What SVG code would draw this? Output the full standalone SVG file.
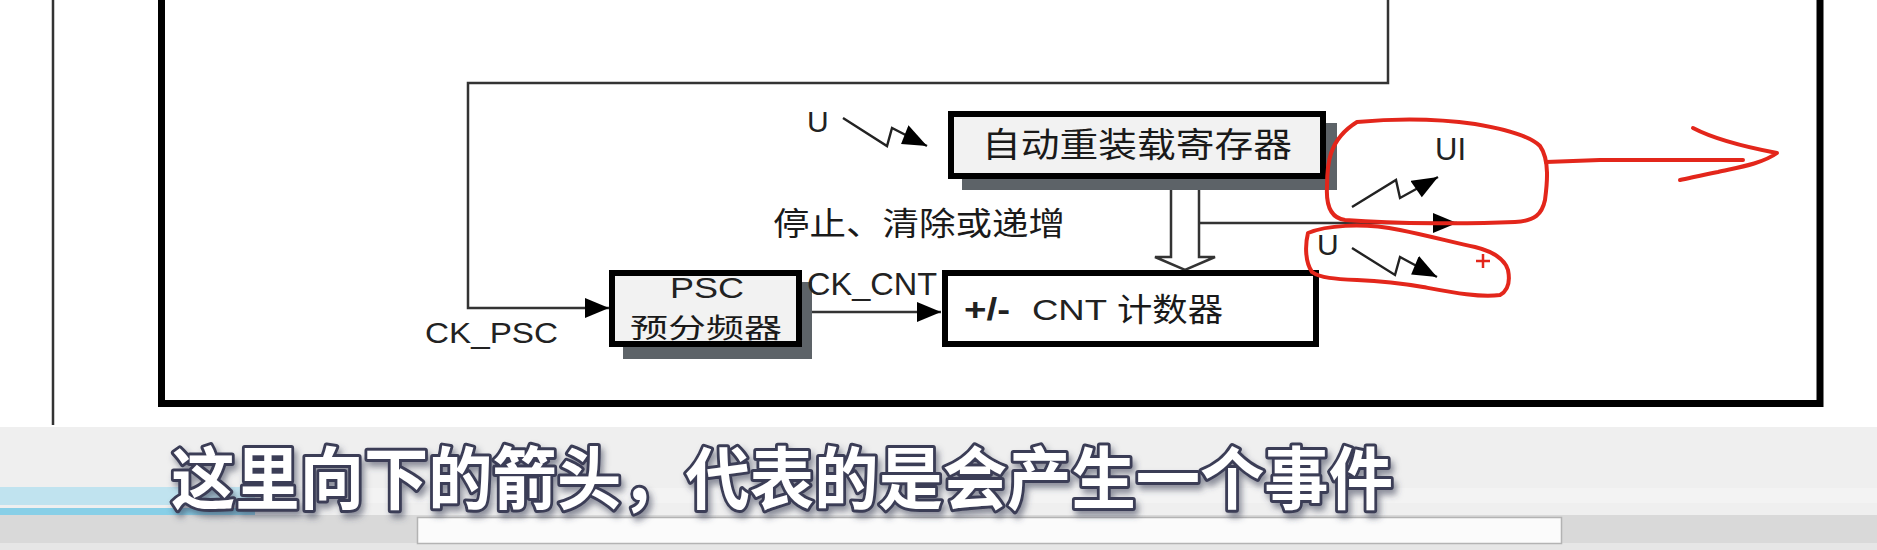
<svg xmlns="http://www.w3.org/2000/svg" width="1877" height="550" viewBox="0 0 1877 550">
<style>
.lat{font-family:"Liberation Sans","Noto Sans CJK SC",sans-serif;fill:#222}
.cjk{font-family:"Noto Sans CJK SC","Liberation Sans",sans-serif;fill:#1a1a1a;font-weight:400}
.box{stroke:#000;stroke-width:6}
.shadow{fill:#5d6368}
.wire{fill:none;stroke:#333;stroke-width:2.5}
.red{fill:none;stroke:#e3261b;stroke-width:4;stroke-linecap:round;stroke-linejoin:round}
.sub{font-family:"Noto Sans CJK SC",sans-serif;font-weight:700;fill:#fff;stroke:#3b3d56;stroke-width:6;paint-order:stroke;stroke-linejoin:round}
</style>
<defs>
<marker id="arr" markerUnits="userSpaceOnUse" markerWidth="26" markerHeight="22" refX="24" refY="10" orient="auto">
<path d="M0,0 L24,10 L0,20 Z" fill="#000"/>
</marker>
<marker id="zap" markerUnits="userSpaceOnUse" markerWidth="28" markerHeight="22" refX="26" refY="10" orient="auto">
<path d="M0,0 L26,10 L2,20 Z" fill="#000"/>
</marker>
<filter id="ts" x="-5%" y="-30%" width="110%" height="170%">
<feDropShadow dx="3" dy="5" stdDeviation="3" flood-color="#3b3d56" flood-opacity="0.55"/>
</filter>
</defs>

<!-- background -->
<rect x="0" y="0" width="1877" height="550" fill="#fff"/>
<line x1="53" y1="0" x2="53" y2="425" stroke="#333" stroke-width="2.5"/>

<!-- outer frame -->
<g id="frame">
<rect x="161.5" y="-20" width="1658.5" height="423.5" fill="none" stroke="#000" stroke-width="7"/>
</g>

<!-- connectors -->
<g id="connectors">
<path class="wire" d="M1388,-5 V83 H468 V308 H609" marker-end="url(#arr)"/>
<path class="wire" d="M802,312 H941" marker-end="url(#arr)"/>
<path d="M1171,179 V257 H1155 L1185,270 L1215,257 H1199 V179" fill="#fff" stroke="#333" stroke-width="2.5" stroke-linejoin="miter"/>
<path class="wire" d="M1199,223 H1457" marker-end="url(#arr)"/>
<!-- update event lightning arrows -->
<path d="M843,118 L887,146 L892,128 L927,146" fill="none" stroke="#222" stroke-width="2.4" marker-end="url(#zap)"/>
<path d="M1352,207 L1396,180 L1400,198 L1438,177" fill="none" stroke="#222" stroke-width="2.4" marker-end="url(#zap)"/>
<path d="M1352,248 L1395,275 L1400,257 L1437,277" fill="none" stroke="#222" stroke-width="2.4" marker-end="url(#zap)"/>
</g>

<!-- nodes -->
<g id="arr-register">
<rect class="shadow" x="962" y="123" width="375" height="67"/>
<rect class="box" x="951" y="114" width="372" height="62" fill="#f2f2f2"/>
<text class="cjk" x="982" y="157" font-size="34" textLength="310" lengthAdjust="spacingAndGlyphs">自动重装载寄存器</text>
</g>

<g id="psc">
<rect class="shadow" x="623" y="282" width="189" height="77"/>
<rect class="box" x="612" y="273" width="187" height="71" fill="#f2f2f2"/>
<text class="lat" x="670" y="298" font-size="30" textLength="74" lengthAdjust="spacingAndGlyphs">PSC</text>
<text class="cjk" x="630" y="338" font-size="27" textLength="152" lengthAdjust="spacingAndGlyphs">预分频器</text>
</g>

<g id="cnt">
<rect class="box" x="945" y="273" width="371" height="71" fill="#fff"/>
<text class="lat" x="964" y="320" font-size="32" font-weight="bold" textLength="46" lengthAdjust="spacingAndGlyphs">+/-</text>
<text class="lat" x="1032" y="320" font-size="30" textLength="75" lengthAdjust="spacingAndGlyphs">CNT</text>
<text class="cjk" x="1117" y="321" font-size="32" textLength="106" lengthAdjust="spacingAndGlyphs">计数器</text>
</g>

<!-- labels -->
<g id="labels">
<text class="lat" x="807" y="132" font-size="30">U</text>
<text class="cjk" x="773" y="235" font-size="32" textLength="292" lengthAdjust="spacingAndGlyphs">停止、清除或递增</text>
<text class="lat" x="807" y="295" font-size="31" textLength="130" lengthAdjust="spacingAndGlyphs">CK_CNT</text>
<text class="lat" x="425" y="343" font-size="30" textLength="133" lengthAdjust="spacingAndGlyphs">CK_PSC</text>
<text class="lat" x="1435" y="160" font-size="31">UI</text>
<text class="lat" x="1317" y="255" font-size="30">U</text>
</g>

<!-- red hand annotations -->
<g id="annotations">
<path class="red" d="M1357,122 C1400,118 1440,119 1475,124 C1505,129 1530,136 1540,146 C1550,160 1547,185 1545,200 C1542,214 1535,221 1515,222 C1470,224 1400,224 1345,220 C1330,218 1326,205 1327,187 C1327,165 1328,140 1357,122 Z"/>
<path class="red" d="M1546,162 L1600,160 L1743,160"/>
<path class="red" d="M1693,128 C1712,138 1740,146 1777,153 C1762,164 1735,168 1718,172 C1702,175 1690,178 1680,180"/>
<path class="red" d="M1308,233 C1325,226 1360,222 1400,230 C1430,236 1455,243 1475,247 C1495,252 1505,260 1508,270 C1510,280 1509,290 1500,295 C1480,298 1450,292 1423,287 C1400,283 1380,281 1357,280 C1335,279 1320,278 1312,272 C1305,262 1305,245 1308,233 Z"/>
<path d="M1476,261 H1490 M1483,254 V268" stroke="#e3261b" stroke-width="2.5" fill="none"/>
</g>

<!-- video subtitle bar -->
<g id="subtitle-bar">
<rect x="0" y="427" width="1877" height="123" fill="#efefef"/>
<rect x="0" y="488" width="1877" height="15" fill="#f3f3f3"/>
<rect x="0" y="515" width="1877" height="28" fill="#d9d9d9"/>
<rect x="0" y="543" width="1877" height="7" fill="#e6e6e6"/>
<rect x="0" y="487" width="255" height="18" fill="#c0e3ef"/>
<rect x="0" y="508" width="255" height="7" fill="#88cfe7"/>
<rect x="417.5" y="517.5" width="1144" height="26" fill="#fbfbfb" stroke="#b3b3b3" stroke-width="1.5"/>
<text class="sub" x="171" y="504" font-size="68" textLength="1222" lengthAdjust="spacingAndGlyphs" filter="url(#ts)">这里向下的箭头，代表的是会产生一个事件</text>
</g>
</svg>
